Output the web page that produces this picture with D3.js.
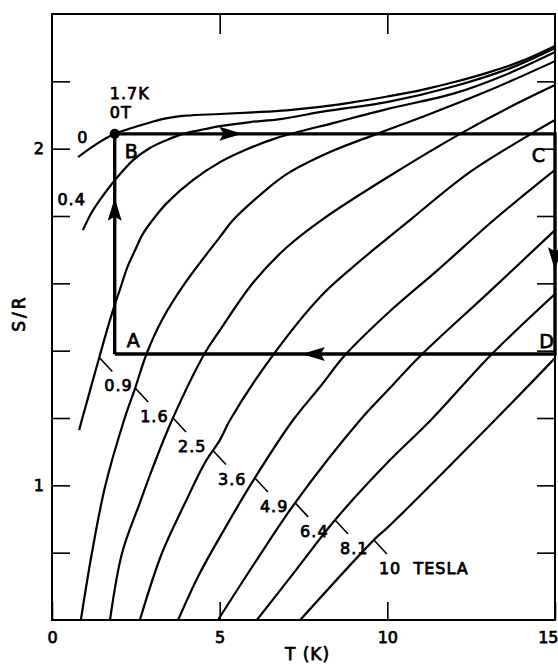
<!DOCTYPE html>
<html lang="en">
<head>
<meta charset="UTF-8">
<title>S/R vs T</title>
<script src="https://d3js.org/d3.v7.min.js"></script>
<style>
  body { margin: 0; background: #fff; }
  svg text { font-family: "DejaVu Sans", sans-serif; fill: #000; stroke: #000; stroke-width: 0.75px; }
  .axis path { display: none; }
  .axis line { stroke: #000; stroke-width: 1.6; }
  .axis text { font-size: 16px; }
  .curve { fill: none; stroke: #000; stroke-width: 2.2; }
  .lbl { font-size: 16px; letter-spacing: 1px; white-space: pre; }
</style>
</head>
<body>
<svg id="chart" width="558" height="665"></svg>
<script>
// tick values
const xTicks = [0, 5, 10, 15];
const yTicks = [0.8, 1.0, 1.2, 1.4, 1.6, 1.8, 2.0, 2.2];
const yLabelled = [1, 2];

// field of each curve (tesla) and its [T (K), S/R] points
const fields = ["0", "0.4", "0.9", "1.6", "2.5", "3.6", "4.9", "6.4", "8.1", "10"];
const curve00 = [[0.78,1.975],[1.3,2.012],[1.87,2.044],[2.4,2.062],[2.9,2.077],[3.4,2.090],[4.0,2.098],[5.0,2.103],[6.0,2.108],[7.0,2.114],[8.0,2.124],[9.0,2.138],[10.0,2.155],[11.0,2.174],[12.0,2.198],[13.0,2.226],[14.0,2.260],[15.0,2.305]];
const curve04 = [[0.92,1.758],[1.19,1.812],[1.43,1.848],[1.88,1.907],[2.42,1.966],[2.92,2.002],[3.43,2.026],[3.91,2.044],[4.41,2.055],[5.01,2.067],[5.91,2.079],[6.80,2.088],[8.20,2.112],[10.02,2.139],[12.02,2.186],[13.69,2.240],[15.0,2.299]];
const curve09 = [[0.81,1.164],[0.89,1.194],[1.43,1.387],[1.64,1.461],[1.85,1.530],[2.03,1.583],[2.24,1.646],[2.48,1.699],[2.71,1.747],[3.07,1.797],[3.43,1.839],[4.21,1.907],[5.01,1.960],[5.76,1.996],[6.71,2.032],[8.5,2.079],[10.02,2.118],[12.02,2.165],[13.51,2.219],[15.0,2.287]];
const curve16 = [[0.86,0.600],[1.19,0.799],[1.58,0.995],[2.15,1.194],[2.48,1.289],[2.83,1.393],[3.28,1.491],[3.97,1.601],[5.01,1.738],[5.40,1.788],[6.20,1.862],[7.01,1.925],[8.29,1.990],[9.69,2.044],[11.27,2.103],[13.06,2.174],[15.0,2.260]];
const curve25 = [[1.73,0.600],[2.09,0.799],[2.62,0.948],[2.98,1.046],[3.58,1.194],[4.56,1.393],[5.01,1.461],[5.99,1.601],[7.01,1.708],[8.08,1.791],[10.02,1.916],[12.17,2.044],[13.66,2.124],[15.0,2.189]];
const curve36 = [[2.62,0.600],[3.28,0.799],[3.97,0.948],[4.56,1.067],[5.01,1.135],[5.31,1.194],[6.59,1.387],[7.99,1.559],[8.98,1.649],[10.02,1.735],[10.71,1.791],[12.47,1.931],[14.29,2.044],[15.0,2.085]];
const curve49 = [[3.76,0.600],[4.35,0.728],[5.01,0.847],[6.05,1.022],[7.19,1.194],[7.99,1.292],[8.74,1.387],[10.02,1.512],[11.51,1.640],[13.21,1.791],[15.0,1.937]];
const curve64 = [[4.95,0.600],[6.05,0.770],[7.25,0.948],[9.19,1.194],[10.02,1.283],[11.01,1.387],[13.0,1.571],[15.0,1.758]];
const curve81 = [[6.11,0.600],[7.28,0.749],[8.44,0.897],[10.02,1.069],[11.30,1.194],[13.09,1.387],[15.0,1.568]];
const curve10 = [[7.40,0.600],[9.66,0.844],[10.02,0.876],[13.21,1.194],[15.0,1.378]];
const curves = [curve00, curve04, curve09, curve16, curve25, curve36, curve49, curve64, curve81, curve10];

// curves labelled through a short leader, and the T where the leader leaves the curve
const leaderFields = ["0.9", "1.6", "2.5", "3.6", "4.9", "6.4", "8.1", "10"];
const leaderT = [1.41, 2.48, 3.61, 4.80, 6.05, 7.25, 8.44, 9.60];

// the A-B-C-D cycle
const cycleNames = ["A", "B", "C", "D"];
const cycleT = [1.87, 1.87, 15, 15];
const cycleS = [1.39, 2.044, 2.044, 1.39];

const svg = d3.select("#chart");
const mLeft = 52, mRight = 555, mTop = 14, mBottom = 620;

const x = d3.scaleLinear().domain([0, 15]).range([mLeft, mRight]);
const y = d3.scaleLinear().domain([0.6, 2.4]).range([mBottom, mTop]);

svg.append("defs").append("clipPath").attr("id", "plot")
  .append("rect").attr("x", mLeft).attr("y", mTop)
  .attr("width", mRight - mLeft).attr("height", mBottom - mTop);

// axes, ticks pointing inward
const fmt = d3.format("d");
const xAxis = svg.append("g").attr("class", "axis")
  .attr("transform", `translate(0,${mBottom})`)
  .call(d3.axisBottom(x).tickValues(xTicks).tickSizeInner(-18).tickSizeOuter(0).tickPadding(12).tickFormat(fmt));
// last label sits on the page edge; pull it in so it stays whole
xAxis.selectAll(".tick text").filter(d => d === 15).attr("text-anchor", "end").attr("dx", 3);
svg.append("g").attr("class", "axis")
  .attr("transform", `translate(0,${mTop})`)
  .call(d3.axisTop(x).tickValues(xTicks.slice(1, -1)).tickSizeInner(-20).tickSizeOuter(0).tickFormat(""));
svg.append("g").attr("class", "axis")
  .attr("transform", `translate(${mLeft},0)`)
  .call(d3.axisLeft(y).tickValues(yTicks).tickSizeInner(-18).tickSizeOuter(0).tickPadding(8)
    .tickFormat(d => yLabelled.some(v => Math.abs(v - d) < 1e-9) ? fmt(d) : ""));
svg.append("g").attr("class", "axis")
  .attr("transform", `translate(${mRight},0)`)
  .call(d3.axisRight(y).tickValues(yTicks).tickSizeInner(-18).tickSizeOuter(0).tickFormat(""));

svg.append("rect")
  .attr("x", mLeft).attr("y", mTop)
  .attr("width", mRight - mLeft).attr("height", mBottom - mTop)
  .attr("fill", "none").attr("stroke", "#000").attr("stroke-width", 2);

// entropy curves
const line = d3.line()
  .x(d => x(d[0])).y(d => y(d[1]))
  .curve(d3.curveCatmullRom.alpha(0.5));

svg.append("g").attr("clip-path", "url(#plot)")
  .selectAll("path").data(curves).join("path")
  .attr("class", "curve").attr("d", line);

function sAt(pts, t) {
  const i = Math.max(1, Math.min(pts.length - 1, d3.bisector(d => d[0]).left(pts, t)));
  const a = pts[i - 1], b = pts[i];
  return a[1] + (b[1] - a[1]) * (t - a[0]) / (b[0] - a[0]);
}

// leaders and field labels
leaderFields.forEach((f, i) => {
  const pts = curves[fields.indexOf(f)];
  const px = x(leaderT[i]), py = y(sAt(pts, leaderT[i]));
  svg.append("line")
    .attr("x1", px).attr("y1", py).attr("x2", px + 13).attr("y2", py + 14)
    .attr("stroke", "#000").attr("stroke-width", 1.6);
  svg.append("text").attr("class", "lbl")
    .attr("x", px + 5).attr("y", py + 34)
    .text(f === "10" ? "10  TESLA" : f);
});

// labels at the low-T ends of the 0 and 0.4 curves
svg.append("text").attr("class", "lbl")
  .attr("x", x(curve00[0][0]) - 1).attr("y", y(curve00[0][1]) - 14)
  .text(fields[0]);
svg.append("text").attr("class", "lbl").attr("text-anchor", "end")
  .attr("x", x(curve04[0][0]) + 3).attr("y", y(curve04[0][1]) - 25)
  .text(fields[1]);

// cycle A -> B -> C -> D -> A
const cyc = cycleT.map((t, i) => [x(t), y(cycleS[i])]);
svg.append("path")
  .attr("d", d3.line()(cyc.concat([cyc[0]])))
  .attr("fill", "none").attr("stroke", "#000").attr("stroke-width", 3.4)
  .attr("stroke-linejoin", "miter");

function arrow(p, q, f) {
  const tx = p[0] + (q[0] - p[0]) * f, ty = p[1] + (q[1] - p[1]) * f;
  const ang = Math.atan2(q[1] - p[1], q[0] - p[0]) * 180 / Math.PI;
  svg.append("path")
    .attr("d", "M0,0L-23,-7L-19,0L-23,7Z")
    .attr("transform", `translate(${tx},${ty}) rotate(${ang})`)
    .attr("fill", "#000");
}
arrow(cyc[0], cyc[1], 0.71);
arrow(cyc[1], cyc[2], 0.29);
arrow(cyc[2], cyc[3], 0.62);
arrow(cyc[3], cyc[0], 0.575);

svg.append("circle").attr("cx", cyc[1][0]).attr("cy", cyc[1][1]).attr("r", 5).attr("fill", "#000");

const big = s => s.attr("font-size", "19px");
big(svg.append("text").attr("x", cyc[0][0] + 12).attr("y", cyc[0][1] - 7).text(cycleNames[0]));
big(svg.append("text").attr("x", cyc[1][0] + 10).attr("y", cyc[1][1] + 24).text(cycleNames[1]));
big(svg.append("text").attr("text-anchor", "end").attr("x", cyc[2][0] - 10).attr("y", cyc[2][1] + 28).text(cycleNames[2]));
big(svg.append("text").attr("text-anchor", "end").attr("x", cyc[3][0] - 1).attr("y", cyc[3][1] - 6).text(cycleNames[3]));

svg.append("text").attr("class", "lbl").attr("x", cyc[1][0] - 5).attr("y", cyc[1][1] - 35).text("1.7K");
svg.append("text").attr("class", "lbl").attr("x", cyc[1][0] - 5).attr("y", cyc[1][1] - 16).text("0T");

// axis titles
svg.append("text").attr("text-anchor", "middle")
  .attr("x", (mLeft + mRight) / 2 + 4).attr("y", 660)
  .attr("font-size", "17px").attr("letter-spacing", "1px")
  .text("T (K)");
svg.append("text").attr("text-anchor", "middle")
  .attr("transform", `translate(25,${(mTop + mBottom) / 2 - 4}) rotate(-90)`)
  .attr("font-size", "17px").attr("letter-spacing", "3px")
  .text("S/R");
</script>
</body>
</html>
